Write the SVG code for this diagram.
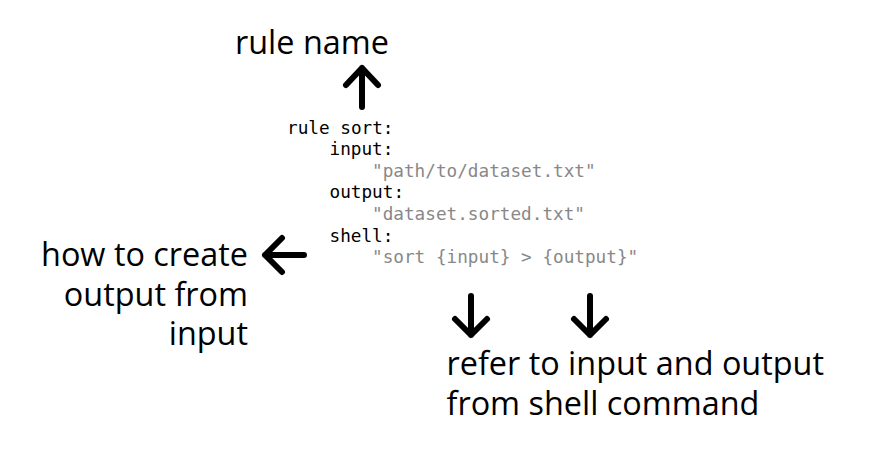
<svg xmlns="http://www.w3.org/2000/svg" width="877" height="452" viewBox="0 0 877 452">
<style>
.lbl{font-family:"Open Sans","Noto Sans",sans-serif;font-size:32.4px;fill:#000}
.code{font-family:"DejaVu Sans Mono",monospace;font-size:17.7px;fill:#000}
.str{fill:#888}
.arr{fill:none;stroke:#000;stroke-width:6;stroke-linecap:round;stroke-linejoin:round}
</style>
<rect width="877" height="452" fill="#fff"/>
<g id="code">
<text class="code" x="287" y="133.5">rule sort:</text>
<text class="code" x="329.5" y="155.1">input:</text>
<text class="code str" x="372" y="176.7">"path/to/dataset.txt"</text>
<text class="code" x="329.5" y="198.3">output:</text>
<text class="code str" x="372" y="219.9">"dataset.sorted.txt"</text>
<text class="code" x="329.5" y="241.5">shell:</text>
<text class="code str" x="372" y="263.1">"sort {input} &gt; {output}"</text>
</g>
<g id="label-rule-name"><text class="lbl" x="235" y="54">rule name</text></g>
<g id="label-how"><text class="lbl" text-anchor="end" x="248"><tspan x="248" y="265.5">how to create</tspan><tspan x="248" y="305.5">output from</tspan><tspan x="248" y="345">input</tspan></text></g>
<g id="label-refer"><text class="lbl" x="446.5"><tspan x="446.5" y="374.5">refer to input and output</tspan><tspan x="446.5" y="414.5">from shell command</tspan></text></g>
<g id="connectors">
<path class="arr" d="M362,107V68M346,85L362,68L378,85"/>
<path class="arr" d="M304,255H265M282,238L265,255L282,272"/>
<path class="arr" d="M471,296V335M455,319L471,335L487,319"/>
<path class="arr" d="M590,296V335M574,319L590,335L606,319"/>
</g>
</svg>
